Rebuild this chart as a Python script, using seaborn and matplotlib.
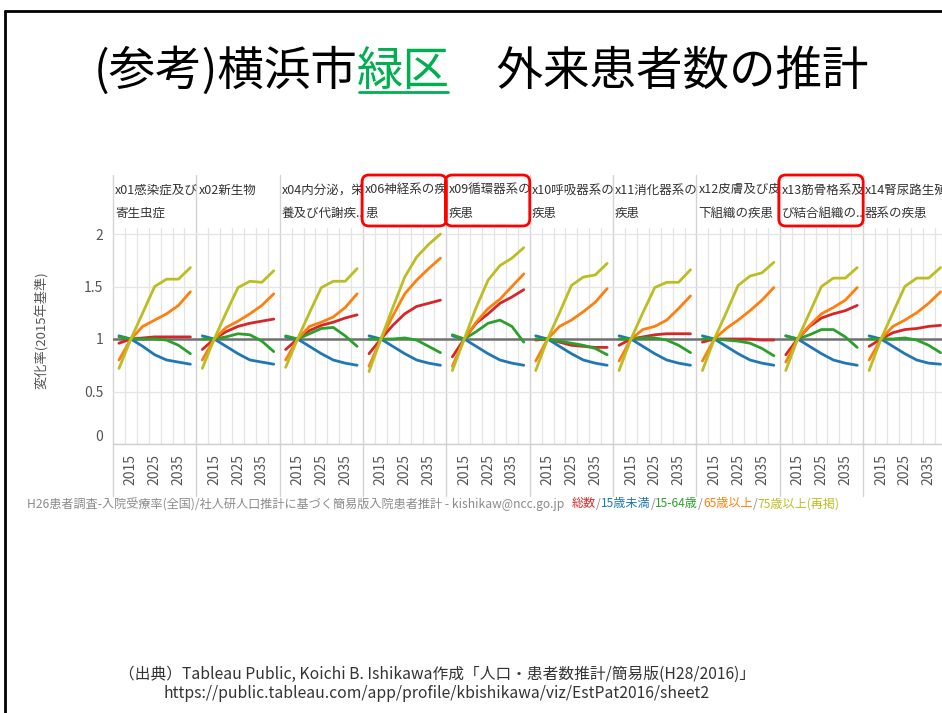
import matplotlib
matplotlib.use("Agg")
import matplotlib.pyplot as plt
from matplotlib.patches import FancyBboxPatch
import numpy as np
import pandas as pd
import seaborn as sns

# data (ratio vs 2015)
years = [2010, 2015, 2020, 2025, 2030, 2035, 2040]
panels = ["x01感染症及び\n寄生虫症", "x02新生物", "x04内分泌，栄\n養及び代謝疾..",
          "x06神経系の疾\n患", "x09循環器系の\n疾患", "x10呼吸器系の\n疾患",
          "x11消化器系の\n疾患", "x12皮膚及び皮\n下組織の疾患",
          "x13筋骨格系及\nび結合組織の..", "x14腎尿路生殖\n器系の疾患"]
series = ["総数", "15歳未満", "15-64歳", "65歳以上", "75歳以上(再掲)"]
colors = ["#d62728", "#1f77b4", "#2ca02c", "#ff7f0e", "#bcbd22"]
boxed = [3, 4, 8]

total = [
    [0.96, 1, 1.01, 1.02, 1.02, 1.02, 1.02],
    [0.90, 1, 1.07, 1.12, 1.15, 1.17, 1.19],
    [0.90, 1, 1.08, 1.13, 1.16, 1.20, 1.23],
    [0.86, 1, 1.13, 1.24, 1.31, 1.34, 1.37],
    [0.83, 1, 1.15, 1.24, 1.34, 1.40, 1.47],
    [0.99, 1, 0.97, 0.94, 0.93, 0.92, 0.92],
    [0.94, 1, 1.02, 1.04, 1.05, 1.05, 1.05],
    [0.97, 1, 1.00, 1.00, 1.00, 0.99, 0.99],
    [0.85, 1, 1.12, 1.20, 1.24, 1.27, 1.32],
    [0.93, 1, 1.06, 1.09, 1.10, 1.12, 1.13],
]
under15 = [
    [1.03, 1, 0.93, 0.85, 0.80, 0.78, 0.76],
    [1.03, 1, 0.93, 0.86, 0.80, 0.78, 0.76],
    [1.02, 1, 0.93, 0.86, 0.80, 0.77, 0.75],
    [1.03, 1, 0.93, 0.86, 0.80, 0.77, 0.75],
    [1.03, 1, 0.93, 0.86, 0.80, 0.77, 0.75],
    [1.03, 1, 0.93, 0.86, 0.80, 0.77, 0.75],
    [1.03, 1, 0.93, 0.86, 0.80, 0.77, 0.75],
    [1.03, 1, 0.93, 0.86, 0.80, 0.77, 0.75],
    [1.03, 1, 0.93, 0.86, 0.80, 0.77, 0.75],
    [1.03, 1, 0.93, 0.86, 0.80, 0.77, 0.76],
]
age15_64 = [
    [1.02, 1, 1.00, 1.00, 0.99, 0.94, 0.86],
    [1.00, 1, 1.02, 1.05, 1.04, 0.98, 0.88],
    [1.03, 1, 1.05, 1.10, 1.11, 1.03, 0.93],
    [1.00, 1, 1.00, 1.01, 0.99, 0.93, 0.87],
    [1.04, 1, 1.07, 1.15, 1.18, 1.12, 0.97],
    [1.00, 1, 0.98, 0.96, 0.94, 0.91, 0.85],
    [1.00, 1, 1.01, 1.01, 0.99, 0.94, 0.87],
    [1.00, 1, 0.99, 0.98, 0.96, 0.91, 0.84],
    [1.03, 1, 1.04, 1.09, 1.09, 1.02, 0.92],
    [1.00, 1, 1.00, 1.01, 0.99, 0.94, 0.87],
]
over65 = [
    [0.80, 1, 1.12, 1.18, 1.24, 1.32, 1.45],
    [0.80, 1, 1.11, 1.17, 1.24, 1.32, 1.43],
    [0.80, 1, 1.12, 1.16, 1.21, 1.30, 1.43],
    [0.74, 1, 1.22, 1.43, 1.56, 1.67, 1.77],
    [0.74, 1, 1.16, 1.29, 1.38, 1.50, 1.62],
    [0.79, 1, 1.12, 1.18, 1.26, 1.35, 1.48],
    [0.79, 1, 1.09, 1.12, 1.18, 1.29, 1.41],
    [0.79, 1, 1.10, 1.18, 1.27, 1.37, 1.49],
    [0.78, 1, 1.13, 1.24, 1.30, 1.37, 1.49],
    [0.80, 1, 1.12, 1.18, 1.25, 1.34, 1.45],
]
over75 = [
    [0.72, 1, 1.25, 1.50, 1.57, 1.57, 1.68],
    [0.72, 1, 1.25, 1.49, 1.55, 1.54, 1.65],
    [0.73, 1, 1.25, 1.49, 1.55, 1.55, 1.67],
    [0.69, 1, 1.30, 1.59, 1.78, 1.90, 2.00],
    [0.70, 1, 1.30, 1.56, 1.70, 1.77, 1.87],
    [0.70, 1, 1.25, 1.51, 1.59, 1.61, 1.72],
    [0.70, 1, 1.25, 1.49, 1.54, 1.54, 1.66],
    [0.70, 1, 1.25, 1.51, 1.60, 1.63, 1.73],
    [0.70, 1, 1.25, 1.50, 1.58, 1.58, 1.68],
    [0.70, 1, 1.25, 1.50, 1.58, 1.58, 1.68],
]

sns.set_theme(style="white")
plt.rcParams["font.family"] = ["Noto Sans CJK JP", "DejaVu Sans"]

rows = []
for name, vals in zip(series, [total, under15, age15_64, over65, over75]):
    for i, p in enumerate(panels):
        for yr, v in zip(years, vals[i]):
            rows.append({"panel": p, "series": name, "year": yr, "value": v})
df = pd.DataFrame(rows)
palette = dict(zip(series, colors))

W, H = 942, 713
fig = plt.figure(figsize=(W / 100, H / 100), dpi=100)
fig.patch.set_facecolor("white")
bg = fig.add_axes([0, 0, 1, 1], zorder=0)
bg.set_xlim(0, W)
bg.set_ylim(H, 0)
bg.axis("off")

left0, pw = 113, 83.35
top, bottom = 228, 444
for i, p in enumerate(panels):
    x = left0 + i * pw
    ax = fig.add_axes([x / W, (H - bottom) / H, pw / W, (bottom - top) / H], zorder=1)
    ax.set_facecolor("none")
    ax.axhline(1, color="#707070", lw=1.8, zorder=1.5)
    sns.lineplot(data=df[df.panel == p], x="year", y="value", hue="series",
                 hue_order=series, palette=palette, linewidth=2, legend=False,
                 ax=ax, zorder=3)
    ax.set_xlim(2007.5, 2042.5)
    ax.set_ylim(0, (bottom - top) / 105)
    ax.set_xticks([2015, 2025, 2035])
    ax.set_xticklabels(["2015", "2025", "2035"], rotation=90)
    ax.set_xticks(np.arange(2012.5, 2040, 5), minor=True)
    ax.set_yticks([0, 0.5, 1, 1.5, 2])
    ax.set_yticklabels(["0", "0.5", "1", "1.5", "2"])
    ax.grid(True, which="minor", axis="x", color="#e4e4e4", lw=0.9)
    ax.grid(True, which="major", axis="y", color="#e4e4e4", lw=0.9)
    ax.tick_params(which="both", length=0, labelsize=10, labelcolor="#555555", pad=7)
    if i > 0:
        ax.tick_params(labelleft=False)
    else:
        ax.get_yticklabels()[0].set_va("bottom")
    ax.set_xlabel("")
    ax.set_ylabel("")
    for s in ["top", "left", "right"]:
        ax.spines[s].set_visible(False)
    ax.spines["bottom"].set_color("#cfcfcf")
    ax.spines["bottom"].set_linewidth(1)

    # header text and separators
    lines = p.split("\n")
    for k, ln in enumerate(lines):
        bg.text(x + 2, 190 + k * 23, ln, fontsize=9, color="#333333", va="center")
    bg.plot([x, x], [175, 496], color="#d4d4d4", lw=1, zorder=0.5)
    if i in boxed:
        bg.add_patch(FancyBboxPatch((x - 1, 175), pw + 1, 51,
                                    boxstyle="round,pad=0,rounding_size=7",
                                    ec="#ff0000", fc="none", lw=2, zorder=5))

bg.text(42, 330, "変化率(2015年基準)", rotation=90, fontsize=9.5, color="#555555",
        ha="center", va="center")

# slide frame
bg.plot([5, 5], [11, H], color="black", lw=2)
bg.plot([5, W], [11, 11], color="black", lw=2)

# title
t1 = bg.text(92, 72, "(参考)横浜市", fontsize=33.5, color="black", va="center")
t2 = bg.annotate("緑区", xy=(1, 0), xycoords=t1, va="bottom", fontsize=33.5,
                 color="#00b050")
t3 = bg.annotate("　外来患者数の推計", xy=(1, 0), xycoords=t2, va="bottom",
                 fontsize=33.5, color="black")

# footer line with colored legend
bg.text(27, 504, "H26患者調査-入院受療率(全国)/社人研人口推計に基づく簡易版入院患者推計 - kishikaw@ncc.go.jp",
        fontsize=8.7, color="#8a8a8a", va="center")
prev = bg.text(572, 504, series[0], fontsize=8.7, color=colors[0], va="center")
for name, c in zip(series[1:], colors[1:]):
    sl = bg.annotate("/", xy=(1, 0), xycoords=prev, va="bottom", fontsize=8.7, color="#8a8a8a")
    prev = bg.annotate(name, xy=(1, 0), xycoords=sl, va="bottom", fontsize=8.7, color=c)

# source
bg.text(437, 674, "（出典）Tableau Public, Koichi B. Ishikawa作成「人口・患者数推計/簡易版(H28/2016)」",
        fontsize=11.3, color="#333333", ha="center", va="center")
bg.text(437, 693, "https://public.tableau.com/app/profile/kbishikawa/viz/EstPat2016/sheet2",
        fontsize=11.3, color="#333333", ha="center", va="center")

# center the title, then underline the green part
fig.canvas.draw()
x_left = t1.get_window_extent().x0
x_right = t3.get_window_extent().x1
t1.set_x(92 + (481 - (x_left + x_right) / 2))
fig.canvas.draw()
bb = t2.get_window_extent()
bg.plot([bb.x0 + 2, bb.x1 - 2], [H - bb.y0 - 4, H - bb.y0 - 4], color="#00b050", lw=2)

fig.savefig("out.png", dpi=100, facecolor="white")
